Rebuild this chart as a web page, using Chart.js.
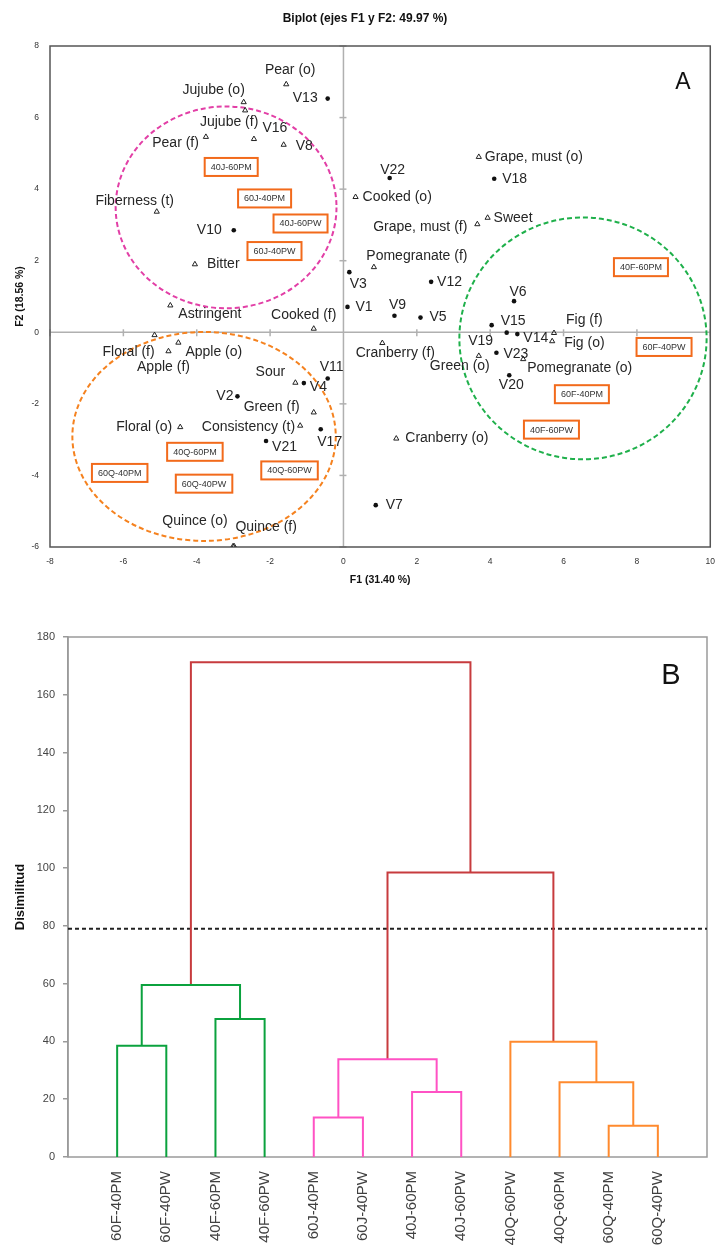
<!DOCTYPE html>
<html><head><meta charset="utf-8">
<script src="https://cdn.jsdelivr.net/npm/chart.js@4.4.1/dist/chart.umd.min.js"></script>
<style>html,body{margin:0;padding:0;background:#fff;} canvas{display:block;}</style>
</head><body>
<canvas id="biplot" width="725" height="600"></canvas>
<canvas id="dendro" width="725" height="659"></canvas>
<script>
// ===== Biplot data (F1, F2) =====
const attrNames = ['Pear (o)','Jujube (o)','Jujube (f)','Pear (f)','V16','V8','Fiberness (t)','Bitter',
  'Grape, must (o)','Cooked (o)','Sweet','Grape, must (f)','Pomegranate (f)','Astringent','Cooked (f)',
  'Floral (f)','Apple (o)','Apple (f)','Sour','Green (f)','Floral (o)','Consistency (t)','Quince (o)','Quince (f)',
  'Fig (f)','Fig (o)','Cranberry (f)','Green (o)','Pomegranate (o)','Cranberry (o)'];
const attrX = [-1.56,-2.72,-2.68,-3.75,-2.44,-1.63,-5.09,-4.05,
  3.69,0.33,3.93,3.65,0.83,-4.72,-0.81,
  -5.15,-4.50,-4.77,-1.31,-0.81,-4.45,-1.18,-3.01,-2.98,
  5.74,5.69,1.06,3.69,4.90,1.44];
const attrY = [6.93,6.43,6.20,5.46,5.40,5.24,3.37,1.90,
  4.90,3.78,3.20,3.02,1.82,0.75,0.10,
  -0.08,-0.29,-0.53,-1.41,-2.24,-2.65,-2.61,-5.98,-5.98,
  -0.02,-0.25,-0.30,-0.66,-0.75,-2.97];
const varNames = ['V13','V10','V22','V18','V12','V3','V1','V9','V5','V6','V15','V19','V14','V23','V20','V7',
  'V4','V11','V2','V17','V21'];
const varX = [-0.43,-2.99,1.26,4.11,2.39,0.16,0.11,1.39,2.10,4.65,4.04,4.45,4.74,4.17,4.52,0.88,
  -1.08,-0.43,-2.89,-0.62,-2.11];
const varY = [6.53,2.85,4.31,4.29,1.41,1.68,0.71,0.46,0.41,0.87,0.20,-0.01,-0.05,-0.57,-1.20,-4.83,
  -1.42,-1.29,-1.79,-2.71,-3.04];
const groupNames = ['40J-60PM','60J-40PM','40J-60PW','60J-40PW','40F-60PM','60F-40PW','60F-40PM','40F-60PW',
  '40Q-60PM','60Q-40PM','60Q-40PW','40Q-60PW'];
const groupX = [-3.06,-2.15,-1.17,-1.88,8.11,8.74,6.50,5.67,-4.05,-6.10,-3.80,-1.47];
const groupY = [4.62,3.74,3.04,2.27,1.82,-0.41,-1.73,-2.72,-3.34,-3.93,-4.23,-3.86];
const f1Ticks = [-8,-6,-4,-2,0,2,4,6,8,10];
const f2Ticks = [-6,-4,-2,0,2,4,6,8];
// cluster ellipses (centre and radii in F1/F2 units)
const clusterCX = [-3.20, 6.53, -3.80];
const clusterCY = [3.49, -0.17, -2.91];
const clusterRX = [3.01, 3.37, 3.59];
const clusterRY = [2.82, 3.38, 2.92];

// ===== Dendrogram data =====
const leaves = ['60F-40PM','60F-40PW','40F-60PM','40F-60PW','60J-40PM','60J-40PW','40J-60PM','40J-60PW',
  '40Q-60PW','40Q-60PM','60Q-40PM','60Q-40PW'];
const mergeA = [0,2,12,4,6,15,10,9,8,17,14];
const mergeB = [1,3,13,5,7,16,11,18,19,20,21];
const mergeH = [38.5,47.8,59.5,13.7,22.5,33.8,10.8,25.9,39.9,98.5,171.3];
const mergeGroup = ['F','F','F','J','J','J','Q','Q','Q','R','R'];
const cutLevel = 79;
const dissimTicks = [0,20,40,60,80,100,120,140,160,180];

// ---- styles ----
const clusterColors = ['#E23FA6','#1FB04B','#F5821F'];
const groupColors = {F:'#0BA23E', J:'#FF52C4', Q:'#FF8A2E', R:'#C73B3E'};
const labelPos = {
'Pear (o)':[4,-14,'center'],'Jujube (o)':[-30,-12,'center'],'Jujube (f)':[-16,12,'center'],'Pear (f)':[-7,6,'right'],
'V16':[21,-11,'center'],'V8':[12,1,'left'],'Fiberness (t)':[-22,-11,'center'],'Bitter':[12,0,'left'],
'Grape, must (o)':[6,0,'left'],'Cooked (o)':[7,0,'left'],'Sweet':[6,0,'left'],'Grape, must (f)':[-10,3,'right'],
'Pomegranate (f)':[43,-11,'center'],'Astringent':[8,9,'left'],'Cooked (f)':[-10,-14,'center'],'Floral (f)':[-26,17,'center'],
'Apple (o)':[7,9,'left'],'Apple (f)':[-5,16,'center'],'Sour':[-25,-11,'center'],'Green (f)':[-14,-5,'right'],
'Floral (o)':[-8,0,'right'],'Consistency (t)':[-5,1,'right'],'Quince (o)':[-38,-25,'center'],'Quince (f)':[32,-19,'center'],
'Fig (f)':[12,-13,'left'],'Fig (o)':[12,2,'left'],'Cranberry (f)':[13,10,'center'],'Green (o)':[-19,10,'center'],
'Pomegranate (o)':[4,9,'left'],'Cranberry (o)':[9,0,'left'],
'V13':[-10,0,'right'],'V10':[-12,0,'right'],'V22':[3,-8,'center'],'V18':[8,0,'left'],'V12':[6,0,'left'],
'V3':[9,12,'center'],'V1':[8,0,'left'],'V9':[3,-11,'center'],'V5':[9,0,'left'],'V6':[4,-9,'center'],
'V15':[9,-4,'left'],'V19':[-26,8,'center'],'V14':[6,4,'left'],'V23':[7,1,'left'],'V20':[2,10,'center'],
'V7':[10,0,'left'],'V4':[6,4,'left'],'V11':[4,-11,'center'],'V2':[-4,0,'right'],'V17':[9,13,'center'],'V21':[6,6,'left']
};

Chart.defaults.font.family = "'Liberation Sans', Arial, sans-serif";
Chart.defaults.color = '#333';

const attrPts = attrX.map((x,i)=>({x:x, y:attrY[i], name:attrNames[i]}));
const varPts = varX.map((x,i)=>({x:x, y:varY[i], name:varNames[i]}));

const biplotDecor = {
  id:'biplotDecor',
  beforeDatasetsDraw(chart){
    const {ctx, chartArea:a, scales:{x, y}} = chart;
    ctx.save();
    // zero axes
    const x0 = x.getPixelForValue(0), y0 = y.getPixelForValue(0);
    ctx.strokeStyle = '#b0b0b0'; ctx.lineWidth = 1.5;
    ctx.beginPath(); ctx.moveTo(a.left, y0); ctx.lineTo(a.right, y0); ctx.moveTo(x0, a.top); ctx.lineTo(x0, a.bottom); ctx.stroke();
    f1Ticks.forEach(v=>{ if(v===0) return; const px=x.getPixelForValue(v); ctx.beginPath(); ctx.moveTo(px,y0-3); ctx.lineTo(px,y0+4); ctx.stroke(); });
    f2Ticks.forEach(v=>{ if(v===0) return; const py=y.getPixelForValue(v); ctx.beginPath(); ctx.moveTo(x0-4,py); ctx.lineTo(x0+3,py); ctx.stroke(); });
    // ellipses
    ctx.setLineDash([5,3]); ctx.lineWidth = 2;
    clusterCX.forEach((cx,i)=>{
      const px = x.getPixelForValue(cx), py = y.getPixelForValue(clusterCY[i]);
      const rx = Math.abs(x.getPixelForValue(cx+clusterRX[i]) - px);
      const ry = Math.abs(y.getPixelForValue(clusterCY[i]+clusterRY[i]) - py);
      ctx.strokeStyle = clusterColors[i];
      ctx.beginPath(); ctx.ellipse(px, py, rx, ry, 0, 0, Math.PI*2); ctx.stroke();
    });
    ctx.setLineDash([]);
    // border
    ctx.strokeStyle = '#555'; ctx.lineWidth = 1.5;
    ctx.strokeRect(a.left, a.top, a.right-a.left, a.bottom-a.top);
    ctx.restore();
  },
  afterDatasetsDraw(chart){
    const {ctx, scales:{x, y}} = chart;
    ctx.save();
    ctx.font = "14px 'Liberation Sans', Arial, sans-serif";
    ctx.fillStyle = '#262626'; ctx.textBaseline = 'middle';
    attrPts.concat(varPts).forEach(p=>{
      const lp = labelPos[p.name] || [6,0,'left'];
      ctx.textAlign = lp[2];
      ctx.fillText(p.name, x.getPixelForValue(p.x)+lp[0], y.getPixelForValue(p.y)+lp[1]);
    });
    // treatment boxes
    ctx.font = "9px 'Liberation Sans', Arial, sans-serif";
    ctx.textAlign = 'center';
    groupNames.forEach((g,i)=>{
      const px = x.getPixelForValue(groupX[i]), py = y.getPixelForValue(groupY[i]);
      const w = ctx.measureText(g).width + 12, h = 18;
      ctx.fillStyle = '#fff'; ctx.fillRect(px-w/2, py-h/2, w, h);
      ctx.strokeStyle = '#F26A1B'; ctx.lineWidth = 2; ctx.strokeRect(px-w/2, py-h/2, w, h);
      ctx.fillStyle = '#333'; ctx.fillText(g, px, py+0.5);
    });
    // title and panel letter
    ctx.fillStyle = '#111';
    ctx.font = "bold 12px 'Liberation Sans', Arial, sans-serif";
    ctx.fillText('Biplot (ejes F1 y F2: 49.97 %)', 365, 19);
    ctx.font = "23px 'Liberation Sans', Arial, sans-serif";
    ctx.fillText('A', 683, 83);
    ctx.restore();
  }
};

new Chart(document.getElementById('biplot'), {
  type:'scatter',
  data:{datasets:[
    {label:'Atributos', data:attrPts, pointStyle:'triangle', pointRadius:3, borderWidth:1, borderColor:'#222', backgroundColor:'rgba(255,255,255,0)'},
    {label:'Variables', data:varPts, pointStyle:'circle', pointRadius:2.3, borderWidth:0, backgroundColor:'#111'}
  ]},
  options:{
    responsive:false, animation:false, devicePixelRatio:1,
    layout:{padding:{left:0, top:46, right:11, bottom:0}},
    plugins:{legend:{display:false}, tooltip:{enabled:false}},
    scales:{
      x:{type:'linear', min:-8, max:10,
        afterBuildTicks(s){ s.ticks = f1Ticks.map(v=>({value:v})); },
        afterFit(s){ s.height = 53; },
        grid:{display:false, drawTicks:false}, border:{display:false},
        ticks:{font:{size:8.5}, color:'#333', padding:10},
        title:{display:true, text:'F1 (31.40 %)', font:{size:10.5, weight:'bold'}, color:'#111', padding:{top:0,bottom:14}}},
      y:{type:'linear', min:-6, max:8,
        afterBuildTicks(s){ s.ticks = f2Ticks.map(v=>({value:v})); },
        afterFit(s){ s.width = 50; },
        grid:{display:false, drawTicks:false}, border:{display:false},
        ticks:{font:{size:8.5}, color:'#333', padding:11},
        title:{display:true, text:'F2 (18.56 %)', font:{size:10.5, weight:'bold'}, color:'#111', padding:{top:14,bottom:0}}}
    }
  },
  plugins:[biplotDecor]
});

// ===== Dendrogram =====
const nodeX = leaves.map((_,i)=>i+1);
const nodeH = leaves.map(()=>0);
const dendroSets = [];
mergeA.forEach((a,i)=>{
  const b = mergeB[i], h = mergeH[i];
  const xa = nodeX[a], xb = nodeX[b];
  dendroSets.push({data:[{x:xa,y:nodeH[a]},{x:xa,y:h},{x:xb,y:h},{x:xb,y:nodeH[b]}],
    showLine:true, borderColor:groupColors[mergeGroup[i]], borderWidth:2, pointRadius:0, tension:0, fill:false});
  nodeX.push((xa+xb)/2); nodeH.push(h);
});
dendroSets.push({data:[{x:0,y:cutLevel},{x:leaves.length+1,y:cutLevel}], showLine:true, borderColor:'#222',
  borderWidth:2, borderDash:[4,3], pointRadius:0});

const dendroDecor = {
  id:'dendroDecor',
  beforeDatasetsDraw(chart){
    const {ctx, chartArea:a} = chart;
    ctx.save(); ctx.strokeStyle = '#9a9a9a'; ctx.lineWidth = 1.5;
    ctx.strokeRect(a.left, a.top, a.right-a.left, a.bottom-a.top);
    ctx.restore();
  },
  afterDatasetsDraw(chart){
    const {ctx} = chart;
    ctx.save(); ctx.fillStyle = '#111'; ctx.textAlign = 'center'; ctx.textBaseline = 'middle';
    ctx.font = "29px 'Liberation Sans', Arial, sans-serif";
    ctx.fillText('B', 671, 76);
    ctx.restore();
  }
};

new Chart(document.getElementById('dendro'), {
  type:'scatter',
  data:{datasets:dendroSets},
  options:{
    responsive:false, animation:false, devicePixelRatio:1,
    layout:{padding:{left:0, top:37, right:18, bottom:0}},
    plugins:{legend:{display:false}, tooltip:{enabled:false}},
    scales:{
      x:{type:'linear', min:0, max:leaves.length+1,
        afterBuildTicks(s){ s.ticks = leaves.map((_,i)=>({value:i+1})); },
        afterFit(s){ s.height = 102; },
        grid:{display:false, drawTicks:false}, border:{display:false},
        ticks:{autoSkip:false, maxRotation:90, minRotation:90, padding:14, font:{size:15}, color:'#404040',
          callback:(v)=>leaves[v-1] || ''}},
      y:{type:'linear', min:0, max:180,
        afterBuildTicks(s){ s.ticks = dissimTicks.map(v=>({value:v})); },
        afterFit(s){ s.width = 68; },
        grid:{display:true, drawOnChartArea:false, drawTicks:true, tickLength:5, tickColor:'#9a9a9a', lineWidth:1.5},
        border:{display:true, color:'#9a9a9a', width:1.5},
        ticks:{font:{size:11}, color:'#444', padding:8},
        title:{display:true, text:'Disimilitud', font:{size:13, weight:'bold'}, color:'#111', padding:{top:13,bottom:0}}}
    }
  },
  plugins:[dendroDecor]
});
</script>
</body></html>
